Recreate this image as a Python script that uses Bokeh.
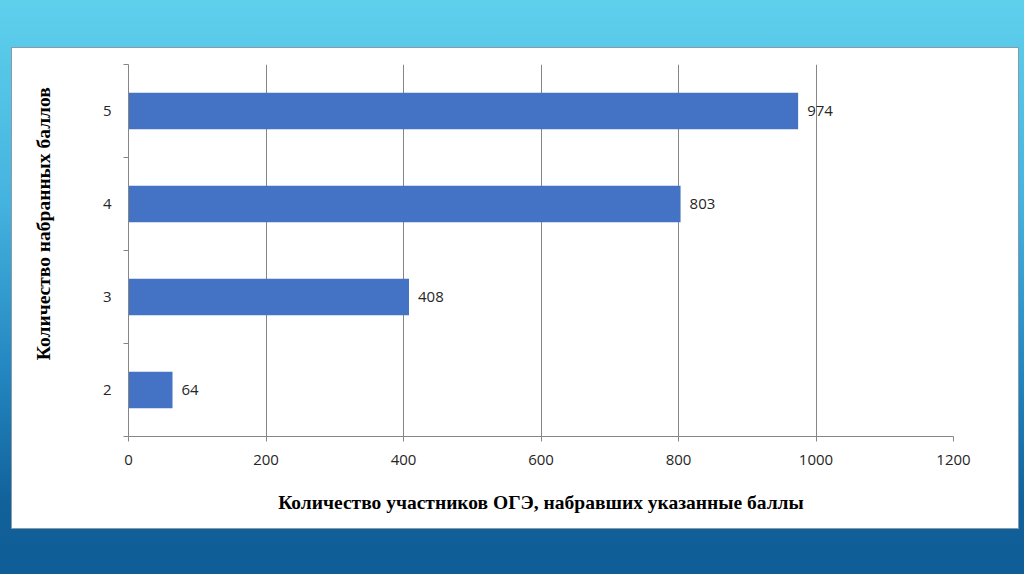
from bokeh.plotting import figure
from bokeh.models import Range1d, FixedTicker, ColumnDataSource, LabelSet
from bokeh.layouts import column
from bokeh.core.properties import value
from bokeh.embed import file_html
from bokeh.resources import INLINE

# ---- data ----
scores = [2, 3, 4, 5]
score_labels = ["2", "3", "4", "5"]
participants = [64, 408, 803, 974]
x_ticks = [0, 200, 400, 600, 800, 1000, 1200]

x_title = "Количество участников ОГЭ, набравших указанные баллы"
y_title = "Количество набранных баллов"

source = ColumnDataSource(data=dict(
    y=scores,
    right=participants,
    label=[str(v) for v in participants],
))

p = figure(
    width=1006, height=480,
    min_border_left=116, min_border_right=65,
    min_border_top=16, min_border_bottom=92,
    x_range=Range1d(0, 1200), y_range=Range1d(1.5, 5.5),
    output_backend="svg", toolbar_location=None,
    margin=(48, 0, 0, 12),
    styles={"box-shadow": "0 0 0 1px #8a9aa6", "background-color": "white"},
)
p.background_fill_color = "white"
p.border_fill_color = "white"
p.outline_line_color = None

p.hbar(y="y", right="right", left=0, height=0.39, source=source,
       fill_color="#4472C4", line_color=None)

labels = LabelSet(x="right", y="y", text="label", source=source,
                  x_offset=9, text_baseline="middle", text_align="left",
                  text_font=value("Open Sans"), text_font_size="15px",
                  text_color="#262626")
p.add_layout(labels)

grid_col = "#868686"

# x axis
p.xaxis.ticker = FixedTicker(ticks=x_ticks)
p.xaxis.major_tick_out = 5
p.xaxis.major_tick_in = 0
p.xaxis.minor_tick_line_color = None
p.xaxis.axis_line_color = grid_col
p.xaxis.major_tick_line_color = grid_col
p.xaxis.major_label_text_font = "Open Sans"
p.xaxis.major_label_text_font_size = "15px"
p.xaxis.major_label_text_color = "#262626"
p.xaxis.major_label_standoff = 13
p.xaxis.axis_label = x_title
p.xaxis.axis_label_text_font = "Liberation Serif"
p.xaxis.axis_label_text_font_style = "bold"
p.xaxis.axis_label_text_font_size = "19.5px"
p.xaxis.axis_label_text_color = "black"
p.xaxis.axis_label_standoff = 24

# y axis
p.yaxis.ticker = FixedTicker(ticks=scores, minor_ticks=[1.5, 2.5, 3.5, 4.5, 5.5])
p.yaxis.major_label_overrides = {s: l for s, l in zip(scores, score_labels)}
p.yaxis.major_tick_out = 0
p.yaxis.major_tick_in = 0
p.yaxis.minor_tick_out = 5
p.yaxis.minor_tick_in = 0
p.yaxis.minor_tick_line_color = grid_col
p.yaxis.axis_line_color = grid_col
p.yaxis.major_label_text_font = "Open Sans"
p.yaxis.major_label_text_font_size = "15px"
p.yaxis.major_label_text_color = "#262626"
p.yaxis.major_label_standoff = 12
# leading non-breaking spaces lift the title slightly above the frame centre, as in the original
p.yaxis.axis_label = "\u00a0" * 11 + y_title
p.yaxis.axis_label_text_font = "Liberation Serif"
p.yaxis.axis_label_text_font_style = "bold"
p.yaxis.axis_label_text_font_size = "19.5px"
p.yaxis.axis_label_text_color = "black"
p.yaxis.axis_label_standoff = 46

p.xgrid.grid_line_color = grid_col
p.xgrid.ticker = FixedTicker(ticks=x_ticks)
p.ygrid.grid_line_color = None

page = column(
    p, width=1024, height=574,
    styles={"background": "linear-gradient(180deg, #5fd0ec 0%, #45b3df 35%, #2386c0 65%, #11619a 88%, #0f5d96 100%)"},
)

open("out.html", "w").write(file_html(page, INLINE))
